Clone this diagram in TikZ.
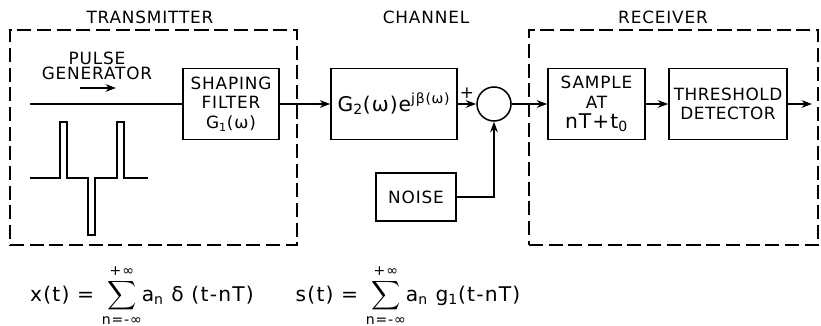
\documentclass[tikz,border=0pt]{standalone}
\usepackage{amsmath}
\usepackage{fontspec}
\setmainfont{DejaVu Sans}[LetterSpace=5]
\setsansfont{DejaVu Sans}
\newfontfamily\eqfont{DejaVu Sans}[LetterSpace=6]
\newcommand{\sumlim}[1]{\mbox{\normalsize\eqfont #1}}
\usetikzlibrary{arrows.meta, positioning}

\begin{document}
\begin{tikzpicture}[
        block/.style={draw, line width=1.1pt, minimum height=1.775cm, align=center, font=\large, inner sep=2pt},
        adder/.style={circle, draw, line width=1.1pt, minimum size=0.85cm, inner sep=0pt},
        group/.style={draw, line width=1.1pt, dash pattern=on 10pt off 4pt},
        title/.style={font=\large, align=center},
        formula/.style={font=\Large\eqfont, anchor=base},
        arrow/.style={-{Stealth[length=2.6mm, width=1.9mm]}, line width=1.8pt}
    ]
        \useasboundingbox (0,0) rectangle (20.525,8.15);

        % Groups
        \node[group, minimum width=7.175cm, minimum height=5.375cm] (tx) at (3.8375,4.7125) {};
        \node[group, minimum width=7.225cm, minimum height=5.375cm] (rx) at (16.8375,4.7125) {};
        \node[title] (txlabel) at (3.75,7.725) {TRANSMITTER};
        \node[title] (chlabel) at (10.65,7.725) {CHANNEL};
        \node[title] (rxlabel) at (16.575,7.725) {RECEIVER};

        % Pulse generator
        \node[title] (pulse) at (2.425,6.5) {PULSE\\[-3pt]GENERATOR};
        \coordinate (pa) at (2.0,5.95);
        \coordinate (pb) at (2.9,5.95);
        \draw[arrow] (pa) -- (pb);
        \draw[line width=1.5pt] (0.75,3.7) -- (1.5,3.7) -- (1.5,5.1) -- (1.675,5.1) -- (1.675,3.7)
            -- (2.2,3.7) -- (2.2,2.275) -- (2.375,2.275) -- (2.375,3.7)
            -- (2.925,3.7) -- (2.925,5.1) -- (3.1,5.1) -- (3.1,3.7) -- (3.7,3.7);

        % Blocks
        \coordinate (in) at (0.75,5.55);
        \node[block, minimum width=2.4cm] (filter) at (5.775,5.55) {SHAPING\\FILTER\\G\textsubscript{1}(ω)};
        \node[block, minimum width=3.15cm] (chan) at (9.85,5.55) {\Large G\textsubscript{2}(ω)e\textsuperscript{jβ(ω)}};
        \node[adder] (add) at (12.35,5.55) {};
        \node[block, minimum width=2.0cm, minimum height=1.2cm] (noise) at (10.4,3.225) {NOISE};
        \node[block, minimum width=2.425cm] (sample) at (14.9125,5.55) {SAMPLE\\AT\\{\Large nT+t\textsubscript{0}}};
        \node[block, minimum width=2.95cm, inner xsep=0pt] (detect) at (18.2,5.55) {\addfontfeature{LetterSpace=3}THRESHOLD\\\addfontfeature{LetterSpace=3}DETECTOR};
        \coordinate (out) at (20.3,5.55);

        % Signal path
        \draw[line width=1.8pt] (in) -- (filter);
        \draw[arrow] (filter) -- (chan);
        \draw[arrow] (chan) -- node[above, font=\large] {+} (add);
        \draw[arrow] (add) -- (sample);
        \draw[arrow] (sample) -- (detect);
        \draw[arrow] (detect) -- (out);
        \draw[arrow] (noise) -| (add);

        % Formulas
        \node[formula] (xt) at (3.55,0.62) {x(t) = $\displaystyle\sum_{\sumlim{n=-∞}}^{\sumlim{+∞}}$a\textsubscript{n} δ (t-nT)};
        \node[formula] (st) at (10.2,0.62) {s(t) = $\displaystyle\sum_{\sumlim{n=-∞}}^{\sumlim{+∞}}$a\textsubscript{n} g\textsubscript{1}(t-nT)};
    \end{tikzpicture}
\end{document}
